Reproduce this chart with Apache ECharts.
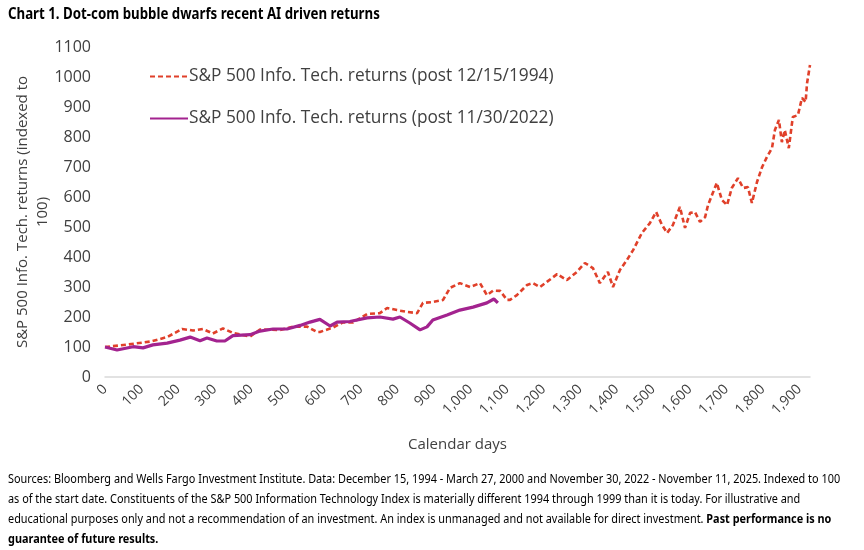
<!DOCTYPE html>
<html>
<head>
<meta charset="utf-8">
<script src="https://cdn.jsdelivr.net/npm/echarts@6/dist/echarts.min.js"></script>
<style>
html,body{margin:0;padding:0;background:#fff;}
#c{width:864px;height:550px;}
</style>
</head>
<body>
<div id="c"></div>
<script>
// Red: S&P 500 IT post 12/15/1994 (calendar days, index)
var redDays = [0,60,123,170,211,241,268,295,323,350,397,424,479,514,553,580,588,624,651,679,717,752,772,799,826,854,870,897,925,944,971,999,1026,1045,1062,1081,1100,1108,1127,1155,1171,1190,1209,1237,1264,1291,1313,1335,1354,1376,1390,1409,1428,1445,1469,1491,1508,1524,1538,1554,1573,1587,1601,1614,1628,1642,1650,1663,1674,1688,1702,1715,1732,1746,1759,1770,1784,1798,1811,1825,1833,1844,1852,1860,1871,1882,1896,1907,1917,1921,1929];
var redValues = [100,108,118,133,160,155,160,145,162,147,135,158,157,168,168,150,150,165,182,182,210,213,230,223,217,213,247,250,257,297,313,300,313,273,288,287,257,257,273,307,313,300,317,343,323,350,380,363,313,350,300,357,390,423,480,513,550,507,480,507,567,497,547,550,517,533,573,613,647,590,573,630,663,630,633,580,650,700,733,763,823,857,783,823,763,867,873,930,917,980,1040];
// Purple: S&P 500 IT post 11/30/2022
var purpleDays = [0,33,77,104,131,170,205,233,260,279,306,328,350,397,424,460,498,534,561,588,616,635,670,717,752,788,807,834,862,881,897,936,971,1007,1045,1064,1075];
var purpleValues = [100,90,101,97,107,113,123,133,121,130,120,120,138,141,153,160,160,172,183,192,170,183,185,197,200,193,200,180,157,167,190,207,223,233,247,260,247];
var seriesNames = ['S&P 500 Info. Tech. returns (post 12/15/1994)','S&P 500 Info. Tech. returns (post 11/30/2022)'];
var yTicks = {min:0,max:1100,interval:100};
var xTicks = {min:0,max:1929,interval:100};

function zip(a,b){return a.map(function(d,i){return [d,b[i]];});}
var chart = echarts.init(document.getElementById('c'));
var axisFont = 'Open Sans, Noto Sans, sans-serif';
var narrow = '"Noto Sans",sans-serif';
chart.setOption({
  backgroundColor:'#ffffff',
  animation:false,
  graphic:[{
    type:'text', x:8, y:6, scaleX:0.83, originX:0,
    style:{text:'Chart 1. Dot-com bubble dwarfs recent AI driven returns',
      font:'bold 16px '+narrow, fill:'#000'}
  },{
    type:'text', x:8, y:469, scaleX:0.871, originX:0,
    style:{
      text:'Sources: Bloomberg and Wells Fargo Investment Institute. Data: December 15, 1994 - March 27, 2000 and November 30, 2022 - November 11, 2025. Indexed to 100\nas of the start date. Constituents of the S&P 500 Information Technology Index is materially different 1994 through 1999 than it is today. For illustrative and\neducational purposes only and not a recommendation of an investment. An index is unmanaged and not available for direct investment. {b|Past performance is no}\n{b|guarantee of future results.}',
      font:'12.5px '+narrow, fill:'#000', lineHeight:20,
      rich:{b:{fontWeight:'bold',fontFamily:narrow,fontSize:12.5,lineHeight:20,fill:'#000'}}
    }
  }],
  legend:{
    orient:'vertical', left:144, top:63, itemWidth:38, itemHeight:14, itemGap:25,
    itemStyle:{opacity:0},
    textStyle:{fontFamily:axisFont,fontSize:17.3,color:'#404040',padding:[0,0,0,-4]},
    data:seriesNames
  },
  grid:{left:105,right:54,top:47,bottom:173,containLabel:false},
  xAxis:{
    type:'value', min:xTicks.min, max:xTicks.max, interval:xTicks.interval,
    name:'Calendar days', nameLocation:'middle', nameGap:60, nameMoveOverlap:false,
    nameTextStyle:{fontFamily:axisFont,fontSize:15,color:'#404040'},
    axisLine:{show:true,lineStyle:{color:'#d9d9d9',width:1.5}},
    axisTick:{show:false}, splitLine:{show:false},
    axisLabel:{rotate:45,showMaxLabel:false,margin:10,fontFamily:axisFont,fontSize:14,color:'#404040',
      formatter:function(v){return v%100===0?v.toLocaleString('en-US'):'';}}
  },
  yAxis:{
    type:'value', min:yTicks.min, max:yTicks.max, interval:yTicks.interval,
    name:'S&P 500 Info. Tech. returns (indexed to\n100)', nameLocation:'middle', nameGap:52, nameMoveOverlap:false,
    nameTextStyle:{fontFamily:axisFont,fontSize:15,color:'#404040',lineHeight:20},
    axisLine:{show:false}, axisTick:{show:false}, splitLine:{show:false},
    axisLabel:{margin:14,fontFamily:axisFont,fontSize:16,color:'#404040',
      formatter:function(v){return String(v);}}
  },
  series:[
    {name:seriesNames[0],type:'line',data:zip(redDays,redValues),symbol:'none',
      lineStyle:{color:'#E0402A',width:2.6,type:[5,3]},itemStyle:{color:'#E0402A'}},
    {name:seriesNames[1],type:'line',data:zip(purpleDays,purpleValues),symbol:'none',
      lineStyle:{color:'#A3238F',width:3.2},itemStyle:{color:'#A3238F'}}
  ]
});
</script>
</body>
</html>
